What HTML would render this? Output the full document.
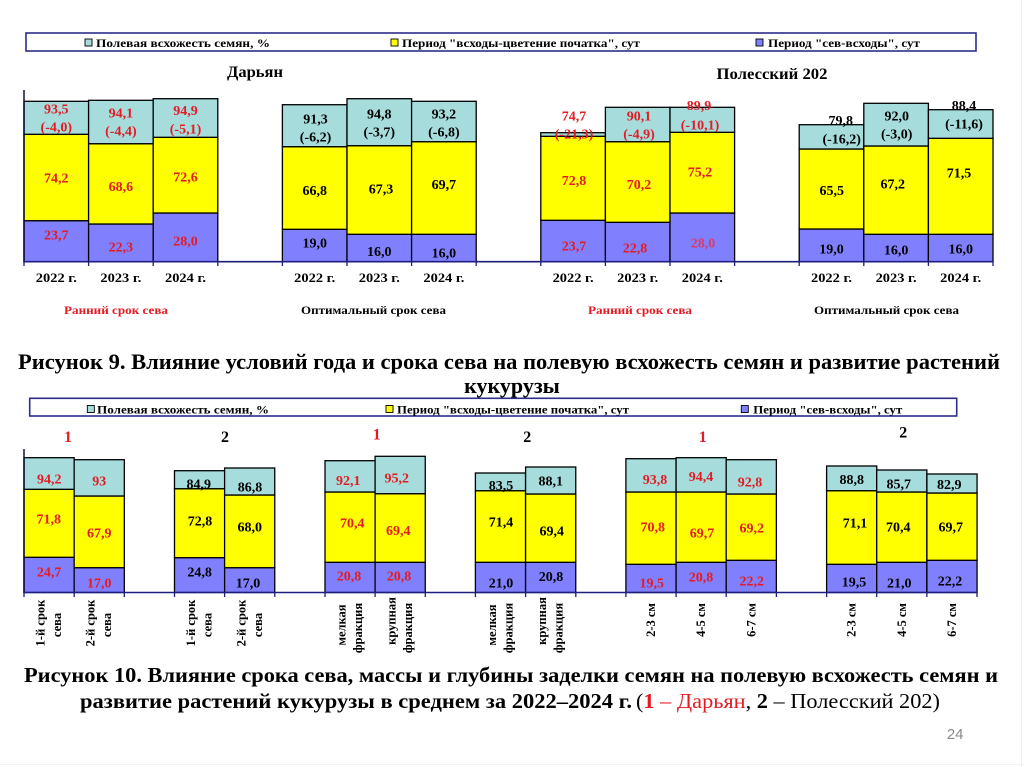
<!DOCTYPE html>
<html><head><meta charset="utf-8"><style>
html,body{margin:0;padding:0;background:#fff;}
svg{display:block;}
text{font-family:"Liberation Serif","DejaVu Serif",serif;}
.v{font-size:14px;font-weight:bold;text-anchor:middle;}
.r{fill:#e31b23;}
.k{fill:#000;}
.lg{font-size:12px;font-weight:bold;}
.xl{font-size:13px;font-weight:bold;text-anchor:middle;}
.rl{font-size:12.5px;font-weight:bold;text-anchor:middle;}
.t{fill:#a6dcdc;stroke:#000;stroke-width:1.3;}
.y{fill:#ffff00;stroke:#000;stroke-width:1.3;}
.b{fill:#8080ff;stroke:#000;stroke-width:1.3;}
</style></head><body>
<svg width="1024" height="767" viewBox="0 0 1024 767" xmlns="http://www.w3.org/2000/svg">
<rect x="0" y="0" width="1024" height="767" fill="#fff"/>
<line x1="1021.5" y1="0" x2="1021.5" y2="767" stroke="#f0f0f0" stroke-width="1"/>
<line x1="0" y1="764.5" x2="1024" y2="764.5" stroke="#f2f2f2" stroke-width="1"/>

<!-- TOP LEGEND -->
<rect x="26" y="33" width="950" height="18" fill="#fff" stroke="#2e2e8a" stroke-width="1.6"/>
<rect x="85" y="39" width="7" height="7" fill="#a6dcdc" stroke="#000" stroke-width="0.9"/>
<text class="lg" x="96" y="47" textLength="174" lengthAdjust="spacingAndGlyphs">Полевая всхожесть семян, %</text>
<rect x="391" y="39" width="7" height="7" fill="#ffff00" stroke="#000" stroke-width="0.9"/>
<text class="lg" x="402" y="47" textLength="238" lengthAdjust="spacingAndGlyphs">Период "всходы-цветение початка", сут</text>
<rect x="756" y="39" width="7" height="7" fill="#8080ff" stroke="#000" stroke-width="0.9"/>
<text class="lg" x="768" y="47" textLength="152" lengthAdjust="spacingAndGlyphs">Период "сев-всходы", сут</text>

<!-- TOP TITLES -->
<text x="255" y="77" font-size="16" font-weight="bold" text-anchor="middle" textLength="56" lengthAdjust="spacingAndGlyphs">Дарьян</text>
<text x="772" y="79" font-size="16" font-weight="bold" text-anchor="middle" textLength="111" lengthAdjust="spacingAndGlyphs">Полесский 202</text>

<!-- TOP BARS -->
<g>
<rect class="b" x="24" y="220.7" width="64.6" height="41"/>
<rect class="y" x="24" y="134.3" width="64.6" height="86.4"/>
<rect class="t" x="24" y="101.3" width="64.6" height="33"/>
<rect class="b" x="88.6" y="224" width="64.6" height="37.7"/>
<rect class="y" x="88.6" y="143.7" width="64.6" height="80.3"/>
<rect class="t" x="88.6" y="100.3" width="64.6" height="43.4"/>
<rect class="b" x="153.2" y="213" width="64.6" height="48.7"/>
<rect class="y" x="153.2" y="137.3" width="64.6" height="75.7"/>
<rect class="t" x="153.2" y="98.7" width="64.6" height="38.6"/>
<rect class="b" x="282.4" y="229.3" width="64.6" height="32.4"/>
<rect class="y" x="282.4" y="146.7" width="64.6" height="82.6"/>
<rect class="t" x="282.4" y="104.7" width="64.6" height="42"/>
<rect class="b" x="347" y="234.3" width="64.6" height="27.4"/>
<rect class="y" x="347" y="145.7" width="64.6" height="88.6"/>
<rect class="t" x="347" y="98.7" width="64.6" height="47"/>
<rect class="b" x="411.6" y="234.3" width="64.6" height="27.4"/>
<rect class="y" x="411.6" y="141.7" width="64.6" height="92.6"/>
<rect class="t" x="411.6" y="101.3" width="64.6" height="40.4"/>
<rect class="b" x="540.8" y="220.3" width="64.6" height="41.4"/>
<rect class="y" x="540.8" y="136.3" width="64.6" height="84"/>
<rect class="t" x="540.8" y="132.7" width="64.6" height="3.6"/>
<rect class="b" x="605.4" y="222.3" width="64.6" height="39.4"/>
<rect class="y" x="605.4" y="141.7" width="64.6" height="80.6"/>
<rect class="t" x="605.4" y="107.3" width="64.6" height="34.4"/>
<rect class="b" x="670" y="213" width="64.6" height="48.7"/>
<rect class="y" x="670" y="132.3" width="64.6" height="80.7"/>
<rect class="t" x="670" y="107.3" width="64.6" height="25"/>
<rect class="b" x="799.2" y="229" width="64.6" height="32.7"/>
<rect class="y" x="799.2" y="149" width="64.6" height="80"/>
<rect class="t" x="799.2" y="124.7" width="64.6" height="24.3"/>
<rect class="b" x="863.8" y="234.3" width="64.6" height="27.4"/>
<rect class="y" x="863.8" y="146" width="64.6" height="88.3"/>
<rect class="t" x="863.8" y="103.3" width="64.6" height="42.7"/>
<rect class="b" x="928.4" y="234.3" width="64.6" height="27.4"/>
<rect class="y" x="928.4" y="138.3" width="64.6" height="96"/>
<rect class="t" x="928.4" y="109.7" width="64.6" height="28.6"/>
</g>

<!-- TOP AXES -->
<line x1="24" y1="90" x2="24" y2="262" stroke="#000033" stroke-width="1.4"/>
<line x1="24" y1="261.7" x2="993" y2="261.7" stroke="#1e1e80" stroke-width="1.6"/>
<g stroke="#1e1e80" stroke-width="1.3">
<line x1="24" y1="261.7" x2="24" y2="266"/><line x1="88.6" y1="261.7" x2="88.6" y2="266"/><line x1="153.2" y1="261.7" x2="153.2" y2="266"/><line x1="217.8" y1="261.7" x2="217.8" y2="266"/><line x1="282.4" y1="261.7" x2="282.4" y2="266"/><line x1="347" y1="261.7" x2="347" y2="266"/><line x1="411.6" y1="261.7" x2="411.6" y2="266"/><line x1="476.2" y1="261.7" x2="476.2" y2="266"/><line x1="540.8" y1="261.7" x2="540.8" y2="266"/><line x1="605.4" y1="261.7" x2="605.4" y2="266"/><line x1="670" y1="261.7" x2="670" y2="266"/><line x1="734.6" y1="261.7" x2="734.6" y2="266"/><line x1="799.2" y1="261.7" x2="799.2" y2="266"/><line x1="863.8" y1="261.7" x2="863.8" y2="266"/><line x1="928.4" y1="261.7" x2="928.4" y2="266"/><line x1="993" y1="261.7" x2="993" y2="266"/>
</g>

<!-- TOP VALUES -->
<g class="v">
<text class="r" x="56.3" y="113.3">93,5</text><text class="r" x="56.3" y="131.7">(-4,0)</text><text class="r" x="56.3" y="182.3">74,2</text><text class="r" x="56.3" y="239.3">23,7</text>
<text class="r" x="120.9" y="117.7">94,1</text><text class="r" x="120.9" y="135.7">(-4,4)</text><text class="r" x="120.9" y="191">68,6</text><text class="r" x="120.9" y="251.7">22,3</text>
<text class="r" x="185.5" y="115">94,9</text><text class="r" x="185.5" y="133.7">(-5,1)</text><text class="r" x="185.5" y="181.7">72,6</text><text class="r" x="185.5" y="245.7">28,0</text>

<text class="k" x="315.5" y="123.7">91,3</text><text class="k" x="315.5" y="141.7">(-6,2)</text><text class="k" x="314.7" y="195">66,8</text><text class="k" x="314.7" y="247.7">19,0</text>
<text class="k" x="379.3" y="118.3">94,8</text><text class="k" x="379.3" y="136.3">(-3,7)</text><text class="k" x="381" y="193.3">67,3</text><text class="k" x="379.3" y="256">16,0</text>
<text class="k" x="443.9" y="118.3">93,2</text><text class="k" x="443.9" y="136.3">(-6,8)</text><text class="k" x="443.9" y="189">69,7</text><text class="k" x="443.9" y="257.3">16,0</text>

<text class="r" x="574" y="120.7">74,7</text><text class="r" x="574" y="138.3">(-21,3)</text><text class="r" x="574" y="185">72,8</text><text class="r" x="574" y="250.3">23,7</text>
<text class="r" x="639" y="120.7">90,1</text><text class="r" x="639" y="138.3">(-4,9)</text><text class="r" x="639" y="189">70,2</text><text class="r" x="635" y="252.3">22,8</text>
<text class="r" x="699" y="110">89,9</text><text class="r" x="700" y="129.3">(-10,1)</text><text class="r" x="700" y="176.7">75,2</text><text x="703" y="247.7" fill="#d63c6e">28,0</text>

<text class="k" x="840.7" y="125">79,8</text><text class="k" x="841.7" y="143.3">(-16,2)</text><text class="k" x="831.7" y="195">65,5</text><text class="k" x="831.5" y="253.7">19,0</text>
<text class="k" x="896.7" y="120.7">92,0</text><text class="k" x="896.7" y="138.3">(-3,0)</text><text class="k" x="892.7" y="188.3">67,2</text><text class="k" x="896.1" y="254.3">16,0</text>
<text class="k" x="964" y="110">88,4</text><text class="k" x="964" y="128.3">(-11,6)</text><text class="k" x="959" y="177.7">71,5</text><text class="k" x="960.7" y="253.7">16,0</text>
</g>

<!-- TOP X LABELS -->
<g class="xl">
<text x="56.3" y="282" textLength="41" lengthAdjust="spacingAndGlyphs">2022 г.</text>
<text x="120.9" y="282" textLength="41" lengthAdjust="spacingAndGlyphs">2023 г.</text>
<text x="185.5" y="282" textLength="41" lengthAdjust="spacingAndGlyphs">2024 г.</text>
<text x="314.7" y="282" textLength="41" lengthAdjust="spacingAndGlyphs">2022 г.</text>
<text x="379.3" y="282" textLength="41" lengthAdjust="spacingAndGlyphs">2023 г.</text>
<text x="443.9" y="282" textLength="41" lengthAdjust="spacingAndGlyphs">2024 г.</text>
<text x="573.1" y="282" textLength="41" lengthAdjust="spacingAndGlyphs">2022 г.</text>
<text x="637.7" y="282" textLength="41" lengthAdjust="spacingAndGlyphs">2023 г.</text>
<text x="702.3" y="282" textLength="41" lengthAdjust="spacingAndGlyphs">2024 г.</text>
<text x="831.5" y="282" textLength="41" lengthAdjust="spacingAndGlyphs">2022 г.</text>
<text x="896.1" y="282" textLength="41" lengthAdjust="spacingAndGlyphs">2023 г.</text>
<text x="960.7" y="282" textLength="41" lengthAdjust="spacingAndGlyphs">2024 г.</text>
</g>
<g font-size="12" font-weight="bold" text-anchor="middle">
<text x="116" y="314" fill="#e31b23" textLength="104" lengthAdjust="spacingAndGlyphs">Ранний срок сева</text>
<text x="373.5" y="314" textLength="145" lengthAdjust="spacingAndGlyphs">Оптимальный срок сева</text>
<text x="640" y="314" fill="#e31b23" textLength="104" lengthAdjust="spacingAndGlyphs">Ранний срок сева</text>
<text x="886.5" y="314" textLength="145" lengthAdjust="spacingAndGlyphs">Оптимальный срок сева</text>
</g>

<!-- CAPTION 9 -->
<text x="18" y="369" font-size="22" font-weight="bold" textLength="982" lengthAdjust="spacingAndGlyphs">Рисунок 9. Влияние условий года и срока сева на полевую всхожесть семян и развитие растений</text>
<text x="512" y="393" font-size="22" font-weight="bold" text-anchor="middle">кукурузы</text>

<!-- BOTTOM LEGEND -->
<rect x="29.7" y="398.3" width="927" height="17.7" fill="#fff" stroke="#2e2e8a" stroke-width="1.6"/>
<rect x="87.3" y="405.5" width="7" height="7" fill="#a6dcdc" stroke="#000" stroke-width="0.9"/>
<text class="lg" x="97" y="413.5" textLength="172" lengthAdjust="spacingAndGlyphs">Полевая всхожесть семян, %</text>
<rect x="386" y="405.5" width="7" height="7" fill="#ffff00" stroke="#000" stroke-width="0.9"/>
<text class="lg" x="397" y="413.5" textLength="232" lengthAdjust="spacingAndGlyphs">Период "всходы-цветение початка", сут</text>
<rect x="741.3" y="405.5" width="7" height="7" fill="#8080ff" stroke="#000" stroke-width="0.9"/>
<text class="lg" x="753.3" y="413.5" textLength="149" lengthAdjust="spacingAndGlyphs">Период "сев-всходы", сут</text>

<!-- BOTTOM GROUP NUMBERS -->
<g font-size="16" font-weight="bold" text-anchor="middle">
<text x="68" y="442" fill="#e31b23">1</text>
<text x="225" y="442">2</text>
<text x="376.7" y="439.5" fill="#e31b23">1</text>
<text x="527.3" y="442">2</text>
<text x="702.7" y="442" fill="#e31b23">1</text>
<text x="903.3" y="437.5">2</text>
</g>

<!-- BOTTOM BARS -->
<g>
<rect class="b" x="24" y="557.3" width="50.16" height="35.2"/><rect class="y" x="24" y="489.3" width="50.16" height="68"/><rect class="t" x="24" y="457.7" width="50.16" height="31.6"/>
<rect class="b" x="74.16" y="567.7" width="50.16" height="24.8"/><rect class="y" x="74.16" y="496" width="50.16" height="71.7"/><rect class="t" x="74.16" y="459.7" width="50.16" height="36.3"/>

<rect class="b" x="174.5" y="557.7" width="50.16" height="34.8"/><rect class="y" x="174.5" y="488.7" width="50.16" height="69"/><rect class="t" x="174.5" y="470.7" width="50.16" height="18"/>
<rect class="b" x="224.6" y="567.7" width="50.16" height="24.8"/><rect class="y" x="224.6" y="495" width="50.16" height="72.7"/><rect class="t" x="224.6" y="468" width="50.16" height="27"/>

<rect class="b" x="325" y="562.3" width="50.16" height="30.2"/><rect class="y" x="325" y="492" width="50.16" height="70.3"/><rect class="t" x="325" y="460.7" width="50.16" height="31.3"/>
<rect class="b" x="375.1" y="562.3" width="50.16" height="30.2"/><rect class="y" x="375.1" y="493.7" width="50.16" height="68.6"/><rect class="t" x="375.1" y="456.3" width="50.16" height="37.4"/>

<rect class="b" x="475.4" y="562.3" width="50.16" height="30.2"/><rect class="y" x="475.4" y="490.7" width="50.16" height="71.6"/><rect class="t" x="475.4" y="473" width="50.16" height="17.7"/>
<rect class="b" x="525.6" y="562.3" width="50.16" height="30.2"/><rect class="y" x="525.6" y="494" width="50.16" height="68.3"/><rect class="t" x="525.6" y="467" width="50.16" height="27"/>

<rect class="b" x="625.9" y="564.3" width="50.16" height="28.2"/><rect class="y" x="625.9" y="492" width="50.16" height="72.3"/><rect class="t" x="625.9" y="458.7" width="50.16" height="33.3"/>
<rect class="b" x="676.1" y="562.3" width="50.16" height="30.2"/><rect class="y" x="676.1" y="492" width="50.16" height="70.3"/><rect class="t" x="676.1" y="457.7" width="50.16" height="34.3"/>
<rect class="b" x="726.2" y="560.3" width="50.16" height="32.2"/><rect class="y" x="726.2" y="494" width="50.16" height="66.3"/><rect class="t" x="726.2" y="459.7" width="50.16" height="34.3"/>

<rect class="b" x="826.6" y="564.3" width="50.16" height="28.2"/><rect class="y" x="826.6" y="490.7" width="50.16" height="73.6"/><rect class="t" x="826.6" y="466" width="50.16" height="24.7"/>
<rect class="b" x="876.7" y="562.3" width="50.16" height="30.2"/><rect class="y" x="876.7" y="492" width="50.16" height="70.3"/><rect class="t" x="876.7" y="470" width="50.16" height="22"/>
<rect class="b" x="926.9" y="560.3" width="50.16" height="32.2"/><rect class="y" x="926.9" y="493" width="50.16" height="67.3"/><rect class="t" x="926.9" y="474" width="50.16" height="19"/>
</g>

<!-- BOTTOM AXES -->
<line x1="24" y1="449" x2="24" y2="593" stroke="#000033" stroke-width="1.4"/>
<line x1="24" y1="592.5" x2="977" y2="592.5" stroke="#1e1e80" stroke-width="1.6"/>
<g stroke="#1e1e80" stroke-width="1.3">
<line x1="24" y1="592.5" x2="24" y2="597"/><line x1="74.16" y1="592.5" x2="74.16" y2="597"/><line x1="124.3" y1="592.5" x2="124.3" y2="597"/><line x1="174.5" y1="592.5" x2="174.5" y2="597"/><line x1="224.6" y1="592.5" x2="224.6" y2="597"/><line x1="274.8" y1="592.5" x2="274.8" y2="597"/><line x1="325" y1="592.5" x2="325" y2="597"/><line x1="375.1" y1="592.5" x2="375.1" y2="597"/><line x1="425.3" y1="592.5" x2="425.3" y2="597"/><line x1="475.4" y1="592.5" x2="475.4" y2="597"/><line x1="525.6" y1="592.5" x2="525.6" y2="597"/><line x1="575.8" y1="592.5" x2="575.8" y2="597"/><line x1="625.9" y1="592.5" x2="625.9" y2="597"/><line x1="676.1" y1="592.5" x2="676.1" y2="597"/><line x1="726.2" y1="592.5" x2="726.2" y2="597"/><line x1="776.4" y1="592.5" x2="776.4" y2="597"/><line x1="826.6" y1="592.5" x2="826.6" y2="597"/><line x1="876.7" y1="592.5" x2="876.7" y2="597"/><line x1="926.9" y1="592.5" x2="926.9" y2="597"/><line x1="977" y1="592.5" x2="977" y2="597"/>
</g>

<!-- BOTTOM VALUES -->
<g class="v">
<text class="r" x="49.3" y="483.3">94,2</text><text class="r" x="48.7" y="523.3">71,8</text><text class="r" x="49.1" y="576.7">24,7</text>
<text class="r" x="99.3" y="485.7">93</text><text class="r" x="99.2" y="537.3">67,9</text><text class="r" x="99.2" y="587.7">17,0</text>

<text class="k" x="198.7" y="488.3">84,9</text><text class="k" x="200" y="525.7">72,8</text><text class="k" x="199.6" y="576.7">24,8</text>
<text class="k" x="250" y="491.7">86,8</text><text class="k" x="249.8" y="531.7">68,0</text><text class="k" x="248" y="587.3">17,0</text>

<text class="r" x="348.3" y="485">92,1</text><text class="r" x="352.3" y="527.7">70,4</text><text class="r" x="349" y="580.7">20,8</text>
<text class="r" x="396.7" y="482.3">95,2</text><text class="r" x="398.3" y="535">69,4</text><text class="r" x="399" y="580.7">20,8</text>

<text class="k" x="501" y="490">83,5</text><text class="k" x="501" y="526.7">71,4</text><text class="k" x="501" y="587.7">21,0</text>
<text class="k" x="550.7" y="485.7">88,1</text><text class="k" x="551.7" y="535.7">69,4</text><text class="k" x="551" y="581">20,8</text>

<text class="r" x="655" y="484">93,8</text><text class="r" x="652.7" y="531.7">70,8</text><text class="r" x="651.7" y="587.3">19,5</text>
<text class="r" x="701" y="481">94,4</text><text class="r" x="702" y="537.7">69,7</text><text class="r" x="701" y="581.7">20,8</text>
<text class="r" x="750" y="486.7">92,8</text><text class="r" x="751.7" y="532.7">69,2</text><text class="r" x="751.7" y="585.7">22,2</text>

<text class="k" x="851.7" y="484">88,8</text><text class="k" x="855" y="527.3">71,1</text><text class="k" x="854" y="586.7">19,5</text>
<text class="k" x="898.7" y="488.3">85,7</text><text class="k" x="898.3" y="531.7">70,4</text><text class="k" x="899.3" y="587.7">21,0</text>
<text class="k" x="949.3" y="489">82,9</text><text class="k" x="950.7" y="531.7">69,7</text><text class="k" x="950" y="585.7">22,2</text>
</g>

<!-- BOTTOM ROTATED LABELS -->
<g class="rl">
<text transform="translate(44.6,623) rotate(-90)">1-й срок</text><text transform="translate(61.1,625) rotate(-90)">сева</text>
<text transform="translate(94.7,623) rotate(-90)">2-й срок</text><text transform="translate(111.2,625) rotate(-90)">сева</text>
<text transform="translate(195.1,623) rotate(-90)">1-й срок</text><text transform="translate(211.6,625) rotate(-90)">сева</text>
<text transform="translate(245.3,623) rotate(-90)">2-й срок</text><text transform="translate(261.8,625) rotate(-90)">сева</text>
<text transform="translate(345.5,625) rotate(-90)">мелкая</text><text transform="translate(362,628) rotate(-90)">фракция</text>
<text transform="translate(395.7,621) rotate(-90)">крупная</text><text transform="translate(412.2,628) rotate(-90)">фракция</text>
<text transform="translate(496,625) rotate(-90)">мелкая</text><text transform="translate(512.5,628) rotate(-90)">фракция</text>
<text transform="translate(546.2,621) rotate(-90)">крупная</text><text transform="translate(562.7,628) rotate(-90)">фракция</text>
<text transform="translate(655,620) rotate(-90)">2-3 см</text>
<text transform="translate(705.2,620) rotate(-90)">4-5 см</text>
<text transform="translate(755.3,620) rotate(-90)">6-7 см</text>
<text transform="translate(855.6,620) rotate(-90)">2-3 см</text>
<text transform="translate(905.8,620) rotate(-90)">4-5 см</text>
<text transform="translate(956,620) rotate(-90)">6-7 см</text>
</g>

<!-- CAPTION 10 -->
<text x="24" y="682" font-size="21" font-weight="bold" textLength="974" lengthAdjust="spacingAndGlyphs">Рисунок 10. Влияние срока сева, массы и глубины заделки семян на полевую всхожесть семян и</text>
<text x="80" y="708" font-size="21" font-weight="bold" textLength="552" lengthAdjust="spacingAndGlyphs">развитие растений кукурузы в среднем за 2022–2024 г.</text>
<text x="636" y="708" font-size="21" textLength="304" lengthAdjust="spacingAndGlyphs"><tspan>(</tspan><tspan fill="#e31b23" font-weight="bold">1</tspan><tspan fill="#e31b23"> – Дарьян</tspan><tspan>, </tspan><tspan font-weight="bold">2</tspan><tspan> – Полесский 202)</tspan></text>

<!-- PAGE NUMBER -->
<text x="963.5" y="739" font-size="15" fill="#888" text-anchor="end" style="font-family:'Liberation Sans','DejaVu Sans',sans-serif;">24</text>
</svg>
</body></html>
